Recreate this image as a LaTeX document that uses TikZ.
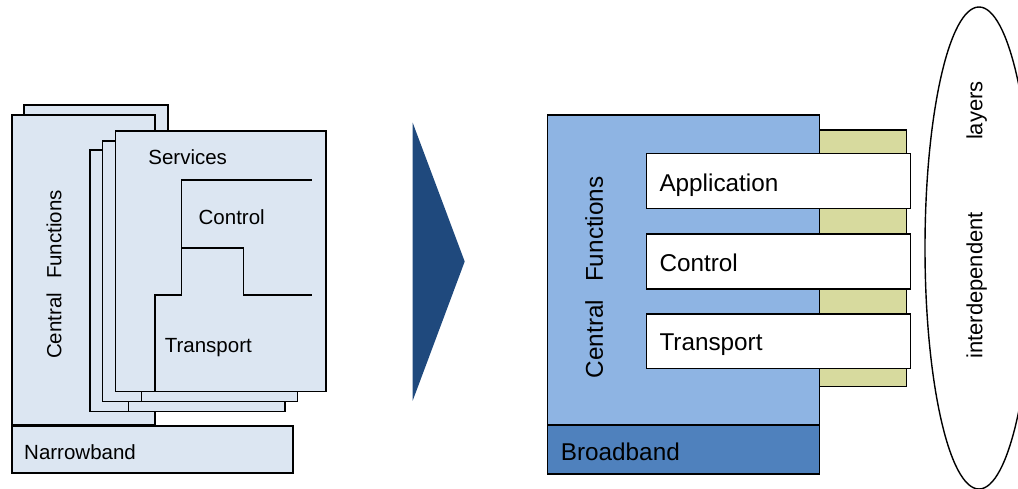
\documentclass[tikz,border=0pt]{standalone}
\usepackage{fontspec}
\setmainfont{Liberation Sans}
\usetikzlibrary{shapes.geometric}

\definecolor{pagefill}{HTML}{DCE6F2}
\definecolor{cfblue}{HTML}{8EB4E3}
\definecolor{bbblue}{HTML}{4F81BD}
\definecolor{olive}{HTML}{D7DA9E}
\definecolor{arrowblue}{HTML}{1F497D}

\tikzset{
  box/.style={draw=black, line width=1.4pt, inner sep=0pt, outer sep=0pt, anchor=north west},
  page/.style={box, fill=pagefill},
  stepline/.style={draw=black, line width=1.5pt},
  smalltext/.style={inner sep=0pt, font=\fontsize{20.5}{24}\selectfont},
  bigtext/.style={inner sep=0pt, font=\fontsize{24.3}{29}\selectfont},
}

% step lines inside a stacked page (coordinates of the front page)
\newcommand\pagesteps{%
  \draw[stepline] (311.7,180) -- (181.7,180) -- (181.7,295) -- (155,295) -- (155,391.7);
  \draw[stepline] (181.7,247.8) -- (243.3,247.8) -- (243.3,295) -- (311.7,295);
}

\begin{document}
\begin{tikzpicture}[x=1pt,y=-1pt]
\useasboundingbox (0,0) rectangle (1018,488);

% ---------- narrowband stack ----------
\node[page, minimum width=144pt, minimum height=300pt] (backpage) at (24,105) {};
\node[page, minimum width=143pt, minimum height=310pt] (mainpage) at (12,115) {};

\node[page, minimum width=195pt, minimum height=261.7pt] (pageA) at (90,150) {};
\begin{scope}[shift={(-26.7,20)}] \pagesteps \end{scope}
\node[page, minimum width=195pt, minimum height=260.7pt] (pageB) at (102.7,141) {};
\begin{scope}[shift={(-13.3,10)}] \pagesteps \end{scope}
\node[page, minimum width=210.3pt, minimum height=260.7pt] (pageC) at (115.7,131) {};
\pagesteps

\node[smalltext] (services) at (187.7,156.7) {Services};
\node[smalltext] (control1) at (231.7,216.7) {Control};
\node[smalltext] (transport1) at (208.3,347.5) {Transport};
\node[smalltext, rotate=90] (cf1) at (54,274.5) {Central\hspace{14pt}Functions};

\node[page, minimum width=281pt, minimum height=47pt] (narrow) at (12,426) {};
\node[smalltext, anchor=west] (narrowtxt) at (24,452.5) {Narrowband};

% ---------- arrow ----------
\fill[arrowblue] (412.7,122.7) -- (464.7,261.5) -- (412.7,400.7) -- cycle;

% ---------- broadband stack ----------
\node[box, fill=olive, minimum width=87.4pt, minimum height=256.7pt] (layerback) at (819.3,130) {};
\node[box, fill=cfblue, minimum width=271.6pt, minimum height=310pt] (central) at (547.7,115) {};
\node[box, fill=bbblue, minimum width=271.6pt, minimum height=49pt] (broad) at (547.7,425) {};
\node[bigtext, anchor=west] (broadtxt) at (560.7,452) {Broadband};

\node[box, fill=white, minimum width=264pt, minimum height=55pt] (app) at (646.7,153.3) {};
\node[box, fill=white, minimum width=264pt, minimum height=55pt] (ctrl) at (646.7,234) {};
\node[box, fill=white, minimum width=264pt, minimum height=54.3pt] (trans) at (646.7,314) {};
\node[bigtext, anchor=west] (apptxt) at (659.3,184.8) {Application};
\node[bigtext, anchor=west] (ctrltxt) at (659.3,263.3) {Control};
\node[bigtext, anchor=west] (transtxt) at (659.3,344.2) {Transport};
\node[bigtext, rotate=90] (cf2) at (594.3,277.3) {Central\hspace{18pt}Functions};

% ---------- interdependent layers ----------
\node[draw=black, line width=1.4pt, ellipse, inner sep=0pt, minimum width=108pt, minimum height=482pt] (layers) at (979,248) {};
\node[inner sep=0pt, rotate=90, font=\fontsize{22}{26}\selectfont] (layerstxt) at (976.7,220) {interdependent\hspace{72pt}layers};
\end{tikzpicture}
\end{document}
